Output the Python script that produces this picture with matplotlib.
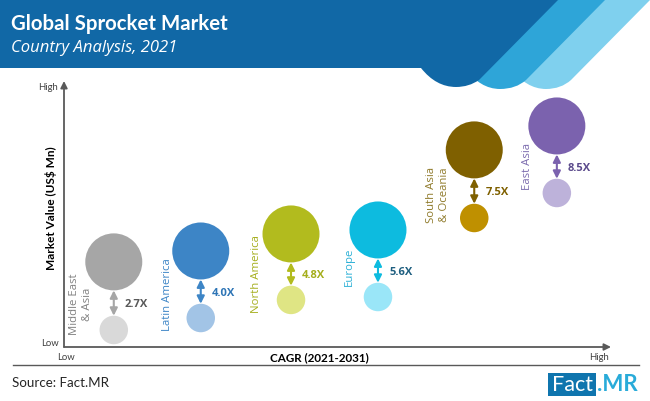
import matplotlib
matplotlib.use("Agg")
import matplotlib.pyplot as plt
from matplotlib.patches import Rectangle, PathPatch
from matplotlib.path import Path

regions = ["Middle East\n& Asia", "Latin America", "North America", "Europe", "South Asia\n& Oceania", "East Asia"]
multiples = ["2.7X", "4.0X", "4.8X", "5.6X", "7.5X", "8.5X"]
cagr = [9.1, 25.0, 41.5, 57.4, 75.0, 90.1]
value_2031 = [32.0, 36.1, 42.5, 44.0, 74.1, 83.1]
value_2021 = [6.4, 10.9, 17.7, 18.8, 48.5, 57.9]
big_colors = ["#A6A6A6", "#3D85C6", "#B2BB1E", "#0DBBDF", "#7F6000", "#7B62AE"]
small_colors = ["#D9D9D9", "#A2C4E6", "#DFE584", "#9AE6F8", "#BF9000", "#BDB2DA"]
label_colors = ["#808080", "#3D85C6", "#A5AE1C", "#2BB0D6", "#8F7A2A", "#7B6BAE"]
multiple_colors = ["#595959", "#2E75B6", "#A5AE1C", "#1F5F80", "#7F6000", "#5B4A8C"]
# where each rotated name sits relative to its small bubble, in pixels
label_dx = [-33, -33, -35, -29, -36, -29]
label_dy = [27, 24, 27, 31, 24, 27]

plt.rcParams["font.family"] = ["Lato", "DejaVu Sans"]

fig = plt.figure(figsize=(6.5, 4.02), dpi=100)

# background layer in pixels, for the banner and footer
bg = fig.add_axes([0, 0, 1, 1])
bg.set_xlim(0, 650)
bg.set_ylim(402, 0)
bg.axis("off")


def band(left, bottom_x, bottom_y, right_top, color, z):
    # flat top, diagonal right edge, rounded foot
    valley_x = right_top - 80
    verts = [(left, 0), (right_top, 0), (valley_x, 81),
             (valley_x - 10, bottom_y), (bottom_x, bottom_y),
             (bottom_x - 20, bottom_y), (bottom_x - 35, 69),
             (left, 69), (left, 0)]
    codes = [Path.MOVETO, Path.LINETO, Path.LINETO,
             Path.CURVE3, Path.CURVE3, Path.CURVE3, Path.CURVE3,
             Path.LINETO, Path.CLOSEPOLY]
    bg.add_patch(PathPatch(Path(verts, codes), fc=color, ec="none", zorder=z))


band(470, 546, 90, 651, "#7FD0EE", 1)
band(440, 500, 90, 606, "#2EA5D8", 2)
band(0, 456, 88, 559, "#1168A6", 3)

bg.text(11, 24, "Global Sprocket Market", color="white", fontsize=14.7, fontweight="bold", va="center", zorder=5)
bg.text(11, 48, "Country Analysis, 2021", color="white", fontsize=12, style="italic", family="Open Sans",
        va="center", zorder=5)

bg.plot([13, 639], [366, 366], color="#595959", lw=1)
bg.text(12, 383, "Source: Fact.MR", color="#262626", fontsize=9.6, va="center")
bg.add_patch(Rectangle((548, 374), 48, 23, fc="#0F75AE", ec="none"))
bg.text(572, 385, "Fact", color="white", fontsize=15.5, ha="center", va="center")
bg.text(597, 385, ".MR", color="#29ABD9", fontsize=16, fontweight="bold", ha="left", va="center")

# chart layer, 0-100 on both axes
ax = fig.add_axes([64 / 650, (402 - 348) / 402, 547 / 650, 266 / 402])
ax.set_xlim(0, 100)
ax.set_ylim(0, 100)
ax.patch.set_alpha(0)
for side in ["top", "right", "left", "bottom"]:
    ax.spines[side].set_visible(False)
ax.set_xticks([])
ax.set_yticks([])

ax.annotate("", xy=(100, 0), xytext=(0, 0), annotation_clip=False,
            arrowprops=dict(arrowstyle="-|>", color="#595959", lw=1.3, shrinkA=0, shrinkB=0))
ax.annotate("", xy=(0, 100), xytext=(0, 0), annotation_clip=False,
            arrowprops=dict(arrowstyle="-|>", color="#595959", lw=1.3, shrinkA=0, shrinkB=0))

big_d = 57 * 0.72
small_d = 28.5 * 0.72
ax.scatter(cagr, value_2031, s=big_d ** 2, c=big_colors, linewidths=0, clip_on=False, zorder=3)
ax.scatter(cagr, value_2021, s=small_d ** 2, c=small_colors, linewidths=0, clip_on=False, zorder=3)

for i, name in enumerate(regions):
    x, hi, lo = cagr[i], value_2031[i], value_2021[i]
    ax.annotate("", xy=(x, lo), xytext=(x, hi),
                arrowprops=dict(arrowstyle="<|-|>", color=big_colors[i], lw=1.5, mutation_scale=11,
                                shrinkA=big_d / 2, shrinkB=small_d / 2), zorder=4)
    ax.annotate(multiples[i], xy=(x, (hi + lo) / 2), xytext=(8, -5.8), textcoords="offset points",
                color=multiple_colors[i], fontsize=8, fontweight="bold", family="Open Sans",
                ha="left", va="center")
    ax.annotate(name, xy=(x, lo), xytext=(label_dx[i] * 0.72, label_dy[i] * 0.72), textcoords="offset points",
                color=label_colors[i], fontsize=8.2, family="Open Sans", rotation=90,
                ha="center", va="center", multialignment="center")

bg.text(58, 87, "High", color="#404040", fontsize=6.8, ha="right", va="center")
bg.text(59, 344, "Low", color="#404040", fontsize=6.8, ha="right", va="center")
bg.text(66, 358, "Low", color="#404040", fontsize=6.8, ha="center", va="center")
bg.text(599, 358, "High", color="#404040", fontsize=6.8, ha="center", va="center")
bg.text(319, 358, "CAGR (2021-2031)", color="black", fontsize=8.4, fontweight="bold", ha="center", va="center")
bg.text(51, 208, "Market Value (US$ Mn)", color="black", fontsize=8.5, fontweight="bold",
        rotation=90, ha="center", va="center")

fig.savefig("out.png", dpi=100)
